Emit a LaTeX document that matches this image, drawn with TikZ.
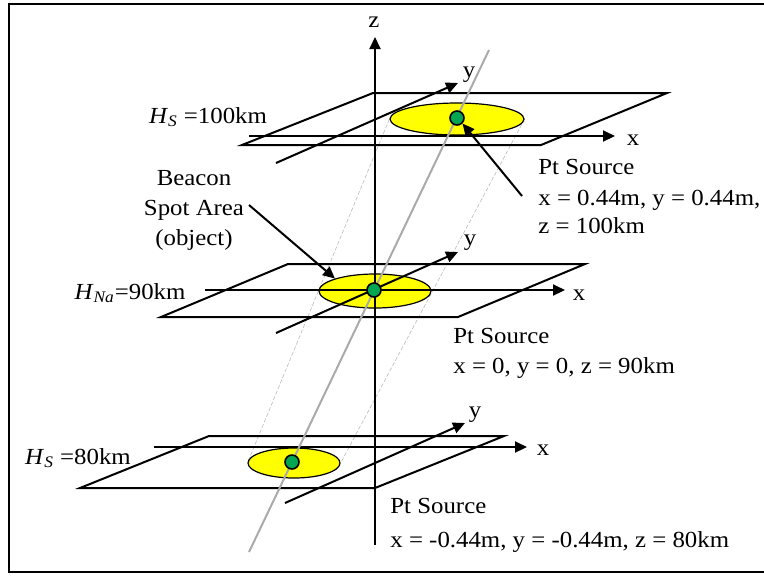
\documentclass[tikz,border=0pt]{standalone}
\usepackage{fontspec}
\setmainfont{Liberation Serif}[FakeStretch=1.08]
\usetikzlibrary{arrows.meta,shapes.geometric,backgrounds}

\definecolor{spotyellow}{RGB}{255,255,0}
\definecolor{srcgreen}{RGB}{0,166,81}
\definecolor{beamgray}{RGB}{170,170,170}
\newcommand{\hsub}[1]{\textit{H}\textsubscript{\textit{#1}}}

\begin{document}
\begin{tikzpicture}[x=0.5pt,y=-0.5pt,>={Triangle[length=6pt,width=5.5pt]},
    font=\fontsize{11.5}{13}\selectfont,
    plane/.style={line width=1pt},
    axis/.style={->,line width=1pt},
    spot/.style={ellipse,draw,fill=spotyellow,line width=0.6pt,inner sep=0pt},
    src/.style={circle,draw,fill=srcgreen,line width=0.8pt,minimum size=7pt,inner sep=0pt},
    lbl/.style={inner sep=0pt},
    txt/.style={anchor=base west,inner sep=0pt}]
    \useasboundingbox (0,0) rectangle (764,575);
    \draw[line width=1.25pt] (9,4) rectangle (768,572);
    % the three planes
    \draw[plane] (373,93) -- (667,93) -- (541,145) -- (242,145) -- cycle;
    \draw[plane] (288,264) -- (585,264) -- (458,317) -- (161,317) -- cycle;
    \draw[plane] (209,436) -- (504,436) -- (375,488) -- (80,488) -- cycle;
    % spot areas
    \node[spot,minimum width=67pt,minimum height=16pt] (topspot) at (457,119) {};
    \node[spot,minimum width=56pt,minimum height=17pt] (midspot) at (375,291) {};
    \node[spot,minimum width=46pt,minimum height=15pt] (lowspot) at (294,463) {};
    \begin{pgfonlayer}{background}
      \draw[beamgray!80,line width=0.3pt,dash pattern=on 2pt off 1pt] (topspot.west) -- (lowspot.west);
      \draw[beamgray!80,line width=0.3pt,dash pattern=on 2pt off 1pt] (topspot.east) -- (lowspot.east);
    \end{pgfonlayer}
    % axes
    \draw[axis] (249,136) -- (615,136);
    \draw[axis] (276,163) -- (458,83);
    \draw[axis] (205,290) -- (565,290);
    \draw[axis] (276,333) -- (458,252);
    \draw[axis] (154,447) -- (527,447);
    \draw[axis] (285,503) -- (465,423);
    \draw[axis] (375,545) -- (375,37);
    \node[lbl] (xtop) at (633,140) {x};
    \node[lbl] (ytop) at (469,75) {y};
    \node[lbl] (xmid) at (579,295) {x};
    \node[lbl] (ymid) at (470,243) {y};
    \node[lbl] (xlow) at (543,450) {x};
    \node[lbl] (ylow) at (475,415) {y};
    \node[lbl] (zaxis) at (374,22) {z};
    % beam
    \coordinate (beamtop) at (489,50);
    \coordinate (beambot) at (249,552);
    \draw[beamgray,line width=1pt] (beamtop) -- (beambot);
    % point sources
    \node[src] (topsrc) at (457,118) {};
    \node[src] (midsrc) at (374,290) {};
    \node[src] (lowsrc) at (292,462) {};
    % heights
    \node (hstop) at (208,117) {\hsub{S} =100km};
    \node (hnamid) at (130,293) {\hsub{Na}=90km};
    \node (hslow) at (78,458) {\hsub{S} =80km};
    % beacon label
    \node[align=center,font=\fontsize{11.5}{15}\selectfont] (beacon) at (194,210) {Beacon\\Spot Area\\(object)};
    \coordinate (beacontail) at (249,205);
    \draw[->,line width=1pt] (beacontail) -- (midspot.north west);
    % source texts
    \node[txt] (topname) at (538,174) {Pt Source};
    \node[txt] (topxy) at (538,205) {x = 0.44m, y = 0.44m,};
    \node[txt] (topz) at (538,233) {z = 100km};
    \coordinate (toptail) at (522,196);
    \draw[->,line width=1pt] (toptail) -- (topsrc.south east);
    \node[txt] (midname) at (453,343) {Pt Source};
    \node[txt] (midxyz) at (453,373) {x = 0, y = 0, z = 90km};
    \node[txt] (lowname) at (390,513) {Pt Source};
    \node[txt] (lowxyz) at (390,547) {x = -0.44m, y = -0.44m, z = 80km};
\end{tikzpicture}
\end{document}
